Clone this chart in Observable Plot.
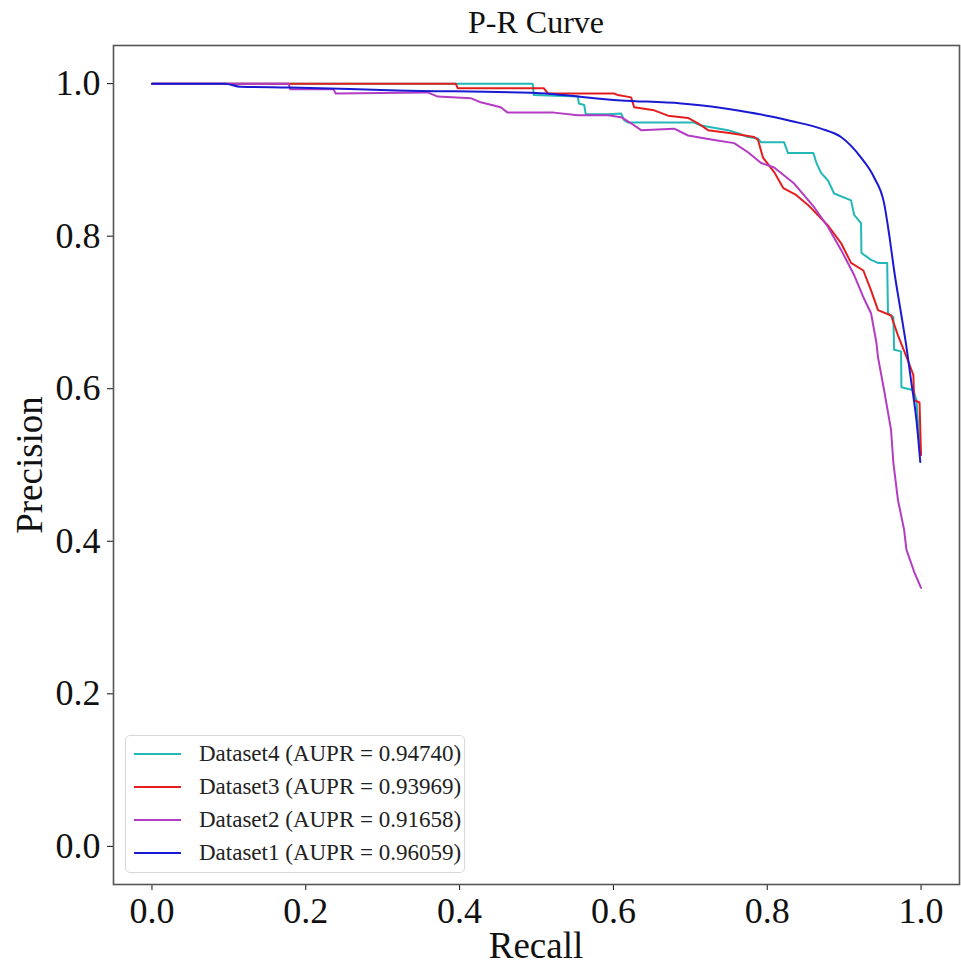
<!DOCTYPE html>
<html>
<head>
<meta charset="utf-8">
<script src="https://cdn.jsdelivr.net/npm/d3@7"></script>
<script src="https://cdn.jsdelivr.net/npm/@observablehq/plot@0.6"></script>
<style>
  html, body { margin: 0; padding: 0; background: #fff; }
  #wrap { position: relative; width: 961px; height: 965px; font-family: "Liberation Serif", "Times New Roman", serif; color: #111; }
  #title { position: absolute; left: 113px; width: 846px; top: 4px; text-align: center; font-size: 32px; line-height: 36px; }
  #xlabel { position: absolute; left: 113px; width: 846px; top: 926px; text-align: center; font-size: 37px; line-height: 40px; }
  #ylabel { position: absolute; left: 30px; top: 465px; transform: translate(-50%, -50%) rotate(-90deg); font-size: 37px; line-height: 40px; white-space: nowrap; }
  #legend { position: absolute; left: 125px; top: 735px; width: 340px; height: 138px; border: 1px solid #d8d8d8; border-radius: 5px; background: rgba(255,255,255,0.85); box-sizing: border-box; }
  .row { position: absolute; left: 0; height: 33px; display: flex; align-items: center; }
  .swatch { width: 47px; height: 0; border-top: 2px solid; margin-left: 8px; margin-right: 18px; }
  .lab { font-size: 23px; color: #222; white-space: nowrap; }
  svg { position: absolute; left: 0; top: 0; }
</style>
</head>
<body>
<div id="wrap">
  <div id="title">P-R Curve</div>
  <div id="xlabel">Recall</div>
  <div id="ylabel">Precision</div>
  <div id="legend"></div>
</div>
<script>
// ---- data ----
const seriesNames = ["Dataset4", "Dataset3", "Dataset2", "Dataset1"];
const auprValues = ["0.94740", "0.93969", "0.91658", "0.96059"];
const seriesColors = ["#22b8b8", "#e41e1e", "#b43cc4", "#1a1ad2"];
const seriesCurves = ["linear", "linear", "linear", "monotone-x"];

const xTicks = [0.0, 0.2, 0.4, 0.6, 0.8, 1.0];
const yTicks = [0.0, 0.2, 0.4, 0.6, 0.8, 1.0];

// Dataset4 (cyan)
const d4Recall = [0, 0.495, 0.4965, 0.554, 0.555, 0.562, 0.564, 0.593, 0.610, 0.614, 0.619, 0.705, 0.714, 0.749, 0.762, 0.775, 0.788, 0.792, 0.822, 0.827, 0.860, 0.864, 0.870, 0.879, 0.887, 0.909, 0.913, 0.922, 0.9225, 0.935, 0.944, 0.956, 0.957, 0.964, 0.965, 0.974, 0.9745, 0.990, 0.994, 0.999];
const d4Precision = [1.0, 1.0, 0.985, 0.983, 0.974, 0.972, 0.960, 0.960, 0.961, 0.952, 0.949, 0.949, 0.945, 0.939, 0.935, 0.930, 0.928, 0.923, 0.923, 0.909, 0.909, 0.896, 0.883, 0.873, 0.856, 0.847, 0.828, 0.817, 0.778, 0.769, 0.765, 0.765, 0.699, 0.694, 0.651, 0.649, 0.602, 0.598, 0.585, 0.513];

// Dataset3 (red)
const d3Recall = [0, 0.395, 0.3975, 0.5095, 0.515, 0.601, 0.606, 0.623, 0.627, 0.653, 0.671, 0.697, 0.710, 0.723, 0.753, 0.783, 0.788, 0.7945, 0.809, 0.821, 0.8375, 0.853, 0.879, 0.896, 0.909, 0.925, 0.935, 0.944, 0.961, 0.970, 0.983, 0.990, 0.991, 0.998, 1.0];
const d3Precision = [1.0, 1.0, 0.994, 0.994, 0.987, 0.987, 0.985, 0.982, 0.969, 0.965, 0.958, 0.955, 0.948, 0.939, 0.935, 0.930, 0.926, 0.903, 0.884, 0.863, 0.854, 0.841, 0.814, 0.791, 0.765, 0.755, 0.729, 0.703, 0.696, 0.670, 0.637, 0.618, 0.585, 0.582, 0.513];

// Dataset2 (magenta)
const d2Recall = [0, 0.1775, 0.180, 0.236, 0.239, 0.3585, 0.3715, 0.4145, 0.4275, 0.4535, 0.4625, 0.5225, 0.554, 0.593, 0.610, 0.623, 0.636, 0.679, 0.697, 0.731, 0.757, 0.775, 0.792, 0.809, 0.835, 0.861, 0.879, 0.896, 0.913, 0.925, 0.935, 0.942, 0.944, 0.952, 0.961, 0.964, 0.970, 0.978, 0.981, 0.991, 1.0];
const d2Precision = [1.0, 1.0, 0.9925, 0.9925, 0.987, 0.9885, 0.983, 0.981, 0.9755, 0.969, 0.962, 0.962, 0.9585, 0.9585, 0.956, 0.948, 0.939, 0.941, 0.932, 0.926, 0.922, 0.910, 0.896, 0.890, 0.869, 0.838, 0.812, 0.782, 0.749, 0.720, 0.699, 0.660, 0.6415, 0.598, 0.546, 0.503, 0.454, 0.415, 0.389, 0.360, 0.339];

// Dataset1 (blue)
const d1Recall = [0, 0.095, 0.115, 0.180, 0.319, 0.4925, 0.610, 0.688, 0.727, 0.766, 0.805, 0.831, 0.870, 0.896, 0.922, 0.939, 0.952, 0.959, 0.965, 0.974, 0.981, 0.987, 0.994, 0.999];
const d1Precision = [1.0, 1.0, 0.996, 0.995, 0.991, 0.988, 0.978, 0.974, 0.970, 0.964, 0.957, 0.951, 0.941, 0.930, 0.903, 0.877, 0.843, 0.799, 0.755, 0.699, 0.655, 0.611, 0.559, 0.504];

const recallBySeries = [d4Recall, d3Recall, d2Recall, d1Recall];
const precisionBySeries = [d4Precision, d3Precision, d2Precision, d1Precision];

const tables = seriesNames.map((name, i) =>
  recallBySeries[i].map((r, j) => ({series: name, recall: r, precision: precisionBySeries[i][j]}))
);

const lineMarks = tables.map((t, i) =>
  Plot.line(t, {x: "recall", y: "precision", stroke: seriesColors[i], strokeWidth: 2, strokeLinejoin: "round", curve: seriesCurves[i]})
);

const chart = Plot.plot({
  width: 961,
  height: 965,
  marginLeft: 113,
  marginRight: 2,
  marginTop: 45,
  marginBottom: 81,
  style: {fontFamily: "'Liberation Serif', 'Times New Roman', serif", fontSize: "36px", color: "#111", background: "transparent"},
  x: {domain: [-0.05, 1.05], ticks: xTicks, tickFormat: d3.format(".1f"), tickSize: 6, tickPadding: 7, label: null},
  y: {domain: [-0.05, 1.05], ticks: yTicks, tickFormat: d3.format(".1f"), tickSize: 6, tickPadding: 7, label: null},
  marks: [
    ...lineMarks,
    Plot.frame({stroke: "#555", strokeWidth: 1.6})
  ]
});
document.getElementById("wrap").insertBefore(chart, document.getElementById("title"));

// legend (HTML overlay inside the plot frame)
const legend = document.getElementById("legend");
seriesNames.forEach((name, i) => {
  const row = document.createElement("div");
  row.className = "row";
  row.style.top = (1 + i * 33) + "px";
  const sw = document.createElement("div");
  sw.className = "swatch";
  sw.style.borderTopColor = seriesColors[i];
  const lab = document.createElement("div");
  lab.className = "lab";
  lab.textContent = `${name} (AUPR = ${auprValues[i]})`;
  row.appendChild(sw);
  row.appendChild(lab);
  legend.appendChild(row);
});
</script>
</body>
</html>
